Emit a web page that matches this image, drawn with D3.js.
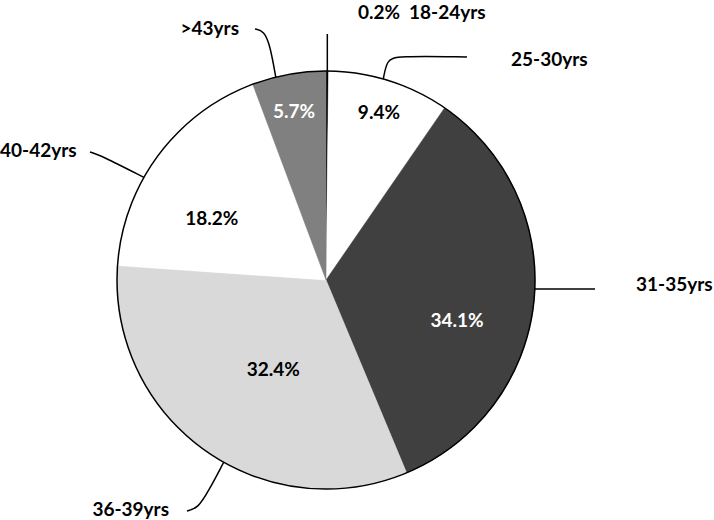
<!DOCTYPE html>
<html>
<head>
<meta charset="utf-8">
<script src="https://cdn.jsdelivr.net/npm/d3@7/dist/d3.min.js"></script>
<style>
  body { margin: 0; background: #fff; }
  svg { display: block; }
  text { font-family: Lato, "Open Sans", sans-serif; font-weight: 700; font-size: 19px; }
</style>
</head>
<body>
<svg id="chart"></svg>
<script>
// data
var categories = ["18-24yrs", "25-30yrs", "31-35yrs", "36-39yrs", "40-42yrs", ">43yrs"];
var shares = [0.2, 9.4, 34.1, 32.4, 18.2, 5.7];

// styles
var fills = ["#000000", "#ffffff", "#404040", "#d9d9d9", "#ffffff", "#808080"];
var pctColors = ["#000", "#000", "#fff", "#000", "#000", "#fff"];

// layout: [angle deg, radius] for percent labels inside the slices
var pctPos = [null, [17.5, 176], [107, 137], [210.5, 104], [298.5, 130], [349.3, 172]];
// leader lines: rim angle + extra points, and category label anchor
var leaders = [
  { rim: null, pts: [[327.3, 34]], label: [409, 19, "start"] },
  { rim: 15.9, pts: [[387, 60], [396, 56], [467, 57]], label: [511, 66, "start"] },
  { rim: 92.5, pts: [[595, 289]], label: [636, 291, "start"] },
  { rim: 209.3, pts: [[208, 492], [198, 508], [187, 511]], label: [169, 516, "end"] },
  { rim: 299.4, pts: [[100, 155], [90, 152]], label: [0, 157, "start"] },
  { rim: 346.1, pts: [[270, 45], [264, 31], [255, 29]], label: [239, 35, "end"] }
];

function init() {
  var w = 714, h = 520;
  var cx = 326, cy = 280, R = 209;
  var deg = Math.PI / 180;

  var svg = d3.select("#chart").attr("width", w).attr("height", h);

  var pie = d3.pie().sort(null).value(function(d) { return d; });
  var arcs = pie(shares);
  var arc = d3.arc().innerRadius(0).outerRadius(R);
  var fmt = d3.format(".1%");

  var g = svg.append("g").attr("transform", "translate(" + cx + "," + cy + ")");

  // slices
  g.selectAll("path.slice")
   .data(arcs)
   .enter()
   .append("path")
   .attr("class", "slice")
   .attr("d", arc)
   .attr("fill", function(d, i) { return fills[i]; })
   .attr("stroke", function(d, i) { return fills[i]; })
   .attr("stroke-width", 0.5);

  // outline
  g.append("circle")
   .attr("r", R)
   .attr("fill", "none")
   .attr("stroke", "#000")
   .attr("stroke-width", 1.5);

  // percent labels inside
  g.selectAll("text.pct")
   .data(arcs.filter(function(d, i) { return pctPos[i]; }))
   .enter()
   .append("text")
   .attr("class", "pct")
   .attr("text-anchor", "middle")
   .attr("dy", "0.35em")
   .attr("fill", function(d) { return pctColors[d.index]; })
   .attr("transform", function(d) {
     var p = d3.pointRadial(pctPos[d.index][0] * deg, pctPos[d.index][1]);
     return "translate(" + p[0] + "," + p[1] + ")";
   })
   .text(function(d) { return fmt(d.value / 100); });

  // tiny slice percent sits outside, next to its category
  svg.append("text")
     .attr("x", 358)
     .attr("y", 19)
     .attr("fill", pctColors[0])
     .text(fmt(shares[0] / 100));

  // leader lines
  var line = d3.line().curve(d3.curveBasis);
  svg.selectAll("path.leader")
     .data(arcs)
     .enter()
     .append("path")
     .attr("class", "leader")
     .attr("fill", "none")
     .attr("stroke", "#000")
     .attr("stroke-width", 1.5)
     .attr("d", function(d, i) {
       var a = leaders[i].rim == null ? (d.startAngle + d.endAngle) / 2 : leaders[i].rim * deg;
       var p = d3.pointRadial(a, R);
       var pts = [[cx + p[0], cy + p[1]]].concat(leaders[i].pts);
       return line(pts);
     });

  // category labels
  svg.selectAll("text.cat")
     .data(categories)
     .enter()
     .append("text")
     .attr("class", "cat")
     .attr("x", function(d, i) { return leaders[i].label[0]; })
     .attr("y", function(d, i) { return leaders[i].label[1]; })
     .attr("text-anchor", function(d, i) { return leaders[i].label[2]; })
     .text(function(d) { return d; });
}

init();
</script>
</body>
</html>
